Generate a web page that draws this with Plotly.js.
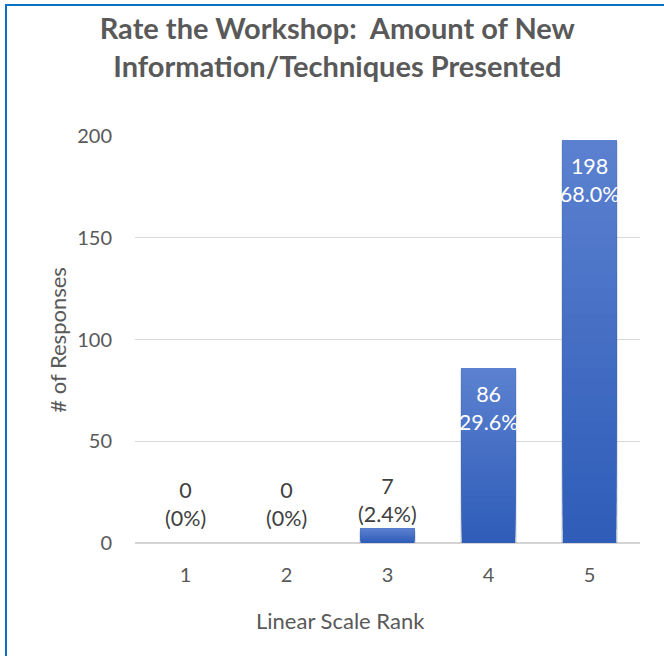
<!DOCTYPE html>
<html>
<head>
<meta charset="utf-8">
<script src="https://cdn.plot.ly/plotly-3.0.1.min.js"></script>
<style>
  html, body { margin: 0; padding: 0; background: #ffffff; overflow: hidden; }
  #chart { position: absolute; left: 0; top: 0; width: 664px; height: 656px; }
  #frame { position: absolute; left: 5px; top: 4px; width: 720px; height: 720px;
           border-top: 2px solid #0a70c6; border-left: 2px solid #0a70c6;
           pointer-events: none; }
</style>
</head>
<body>
<div id="chart"></div>
<div id="frame"></div>
<script>
// Survey results: number of responses per rank
const ranks = ['1', '2', '3', '4', '5'];
const responses = [0, 0, 7, 86, 198];
const shares = ['0%', '0%', '2.4%', '29.6%', '68.0%'];

const FONT = 'Lato, "Open Sans", sans-serif';
const GRAY = '#595959';
const BAR_BOTTOM = [46, 92, 184];   // darker blue at the base
const BAR_TOP = [92, 129, 208];     // lighter blue at the top
const BAR_WIDTH = 0.53;
const SLICES = 30;

const xIdx = ranks.map((r, i) => i);

// Soft drop shadow behind each bar
const traces = [{
  type: 'bar',
  x: xIdx,
  y: responses.map(v => (v > 0 ? v + 0.6 : 0)),
  base: responses.map(() => -1.4),
  width: BAR_WIDTH + 0.035,
  marker: { color: 'rgba(0,0,0,0.10)', line: { width: 0 } },
  hoverinfo: 'skip'
}];

// Vertical gradient fill: overlapping layers, each starting a little higher
// and running up to the bar top, drawn from the darkest to the lightest
for (let k = 0; k < SLICES; k++) {
  const t = (k + 0.5) / SLICES;
  const c = BAR_BOTTOM.map((b, j) => Math.round(b + (BAR_TOP[j] - b) * t));
  traces.push({
    type: 'bar',
    x: xIdx,
    y: responses.map(v => v * (SLICES - k) / SLICES),
    base: responses.map(v => v * k / SLICES),
    width: BAR_WIDTH,
    marker: { color: 'rgb(' + c.join(',') + ')', line: { width: 0 } },
    hoverinfo: 'skip'
  });
}

// Value labels: white inside tall bars, dark above short ones
const annotations = ranks.map((r, i) => {
  const inside = responses[i] > 40;
  return {
    x: i,
    y: responses[i],
    xref: 'x',
    yref: 'y',
    text: responses[i] + '<br>(' + shares[i] + ')',
    showarrow: false,
    yanchor: inside ? 'top' : 'bottom',
    yshift: inside ? -11 : (responses[i] > 0 ? 0 : 10),
    font: { family: FONT, size: 21.5, color: inside ? '#ffffff' : '#404040' }
  };
});

// Axis titles, placed relative to the whole chart area
annotations.push({
  text: 'Linear Scale Rank',
  xref: 'paper', yref: 'paper',
  x: 0.406, y: -0.19,
  xanchor: 'center', yanchor: 'middle',
  showarrow: false,
  font: { family: FONT, size: 22, color: GRAY }
});
annotations.push({
  text: '# of Responses',
  xref: 'paper', yref: 'paper',
  x: -0.153, y: 0.499,
  xanchor: 'center', yanchor: 'middle',
  textangle: -90,
  showarrow: false,
  font: { family: FONT, size: 22, color: GRAY }
});

const layout = {
  width: 664,
  height: 656,
  margin: { l: 135, r: 24, t: 136, b: 113 },
  paper_bgcolor: '#ffffff',
  plot_bgcolor: '#ffffff',
  showlegend: false,
  barmode: 'overlay',
  title: {
    text: '<b>Rate the Workshop:  Amount of New<br>Information/Techniques Presented</b>',
    font: { family: FONT, size: 29, color: GRAY },
    x: 0.508,
    xanchor: 'center',
    y: 0.94,
    yanchor: 'top'
  },
  xaxis: {
    range: [-0.5, 4.5],
    tickmode: 'array',
    tickvals: xIdx,
    ticktext: ranks,
    showgrid: false,
    showline: false,
    zeroline: false,
    ticks: '',
    ticklabelstandoff: 18,
    tickfont: { family: FONT, size: 20, color: GRAY }
  },
  yaxis: {
    range: [0, 200],
    dtick: 50,
    showgrid: true,
    gridcolor: '#d9d9d9',
    gridwidth: 1,
    zeroline: true,
    zerolinecolor: '#d4d4d4',
    zerolinewidth: 2,
    showline: false,
    ticks: '',
    ticklabelstandoff: 22,
    tickfont: { family: FONT, size: 20, color: GRAY }
  },
  annotations: annotations
};

Plotly.newPlot('chart', traces, layout, { displayModeBar: false, staticPlot: true });
</script>
</body>
</html>
